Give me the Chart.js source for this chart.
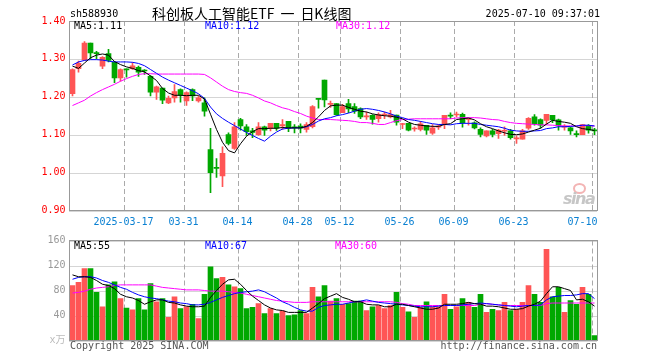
<!DOCTYPE html>
<html>
<head>
<meta charset="utf-8">
<title>sh588930 日K线图</title>
<script src="https://cdn.jsdelivr.net/npm/chart.js@4.4.1/dist/chart.umd.min.js"></script>
<style>
  body { margin: 0; background: #fff; }
  #wrap { position: relative; width: 660px; height: 360px; overflow: hidden; background: #fff; }
  #wrap canvas { position: absolute; left: 0; }
  .txt { position: absolute; font-family: 'DejaVu Sans Mono', monospace; font-size: 10px; line-height: 12px; white-space: pre; }
  .cn { position: absolute; font-family: 'Noto Sans CJK SC', sans-serif; font-size: 14px; line-height: 16px; white-space: pre; color: #000; }
  .cn .gap { display: inline-block; width: 6px; }
  #sina { position: absolute; left: 563px; top: 189px; font: italic bold 16px 'DejaVu Sans', sans-serif; letter-spacing: -1.5px; color: #c6c6c6; }
  #sinaEye { position: absolute; left: 573px; top: 183px; width: 9px; height: 7px; border-radius: 50%; border: 2px solid #f3b4b4; }
</style>
</head>
<body>
<div id="wrap">
  <canvas id="kline" width="660" height="232" style="top:0"></canvas>
  <canvas id="vol" width="660" height="130" style="top:230px"></canvas>

  <div class="txt" style="left:70px;top:8px">sh588930</div>
  <div class="cn" style="left:152px;top:5px">科创板人工智能ETF<span class="gap"></span>一<span class="gap"></span>日K线图</div>
  <div class="txt" style="right:60px;top:8px">2025-07-10 09:37:01</div>

  <div class="txt" id="ma5Label" style="left:74px;top:20px;color:#000"></div>
  <div class="txt" id="ma10Label" style="left:205px;top:20px;color:#0000ff"></div>
  <div class="txt" id="ma30Label" style="left:336px;top:20px;color:#ff00ff"></div>

  <div class="txt" id="vma5Label" style="left:74px;top:240px;color:#000"></div>
  <div class="txt" id="vma10Label" style="left:205px;top:240px;color:#0000ff"></div>
  <div class="txt" id="vma30Label" style="left:335px;top:240px;color:#ff00ff"></div>

  <div id="sinaEye"></div>
  <div id="sina">sina</div>

  <div class="txt" style="left:70px;top:340px;color:#555">Copyright 2025 SINA.COM</div>
  <div class="txt" style="right:63px;top:340px;color:#555">http://finance.sina.com.cn</div>
</div>

<script>
// Trading days shown on the chart
const dates = [
  '2025-03-04','2025-03-05','2025-03-06','2025-03-07','2025-03-10','2025-03-11','2025-03-12','2025-03-13','2025-03-14','2025-03-17',
  '2025-03-18','2025-03-19','2025-03-20','2025-03-21','2025-03-24','2025-03-25','2025-03-26','2025-03-27','2025-03-28','2025-03-31',
  '2025-04-01','2025-04-02','2025-04-03','2025-04-07','2025-04-08','2025-04-09','2025-04-10','2025-04-11','2025-04-14','2025-04-15',
  '2025-04-16','2025-04-17','2025-04-18','2025-04-21','2025-04-22','2025-04-23','2025-04-24','2025-04-25','2025-04-28','2025-04-29',
  '2025-04-30','2025-05-06','2025-05-07','2025-05-08','2025-05-09','2025-05-12','2025-05-13','2025-05-14','2025-05-15','2025-05-16',
  '2025-05-19','2025-05-20','2025-05-21','2025-05-22','2025-05-23','2025-05-26','2025-05-27','2025-05-28','2025-05-29','2025-05-30',
  '2025-06-03','2025-06-04','2025-06-05','2025-06-06','2025-06-09','2025-06-10','2025-06-11','2025-06-12','2025-06-13','2025-06-16',
  '2025-06-17','2025-06-18','2025-06-19','2025-06-20','2025-06-23','2025-06-24','2025-06-25','2025-06-26','2025-06-27','2025-06-30',
  '2025-07-01','2025-07-02','2025-07-03','2025-07-04','2025-07-07','2025-07-08','2025-07-09','2025-07-10'
];

// Dates that get a label and a dashed grid line
const tickDates = ['2025-03-17','2025-03-31','2025-04-14','2025-04-28','2025-05-12','2025-05-26','2025-06-09','2025-06-23','2025-07-10'];

const openP = [
  1.208,1.274,1.297,1.342,1.317,1.281,1.314,1.291,1.250,1.274,
  1.274,1.278,1.270,1.254,1.212,1.223,1.184,1.197,1.219,1.189,
  1.219,1.189,1.184,1.061,1.013,0.991,1.100,1.064,1.140,1.121,
  1.110,1.100,1.121,1.117,1.130,1.123,1.135,1.121,1.123,1.114,
  1.121,1.196,1.244,1.180,1.182,1.158,1.182,1.174,1.169,1.147,
  1.151,1.142,1.152,1.147,1.152,1.127,1.130,1.115,1.114,1.125,
  1.104,1.120,1.129,1.151,1.152,1.154,1.140,1.131,1.114,1.097,
  1.110,1.103,1.109,1.110,1.089,1.088,1.117,1.147,1.140,1.138,
  1.151,1.139,1.120,1.118,1.102,1.100,1.125,1.112
];
const highP = [
  1.274,1.294,1.346,1.342,1.320,1.306,1.325,1.293,1.274,1.274,
  1.290,1.281,1.272,1.256,1.228,1.223,1.202,1.232,1.221,1.213,
  1.221,1.202,1.197,1.117,1.037,1.068,1.105,1.132,1.143,1.127,
  1.117,1.132,1.123,1.130,1.130,1.140,1.135,1.127,1.129,1.132,
  1.177,1.196,1.244,1.189,1.182,1.180,1.193,1.182,1.171,1.160,
  1.153,1.158,1.160,1.164,1.152,1.130,1.130,1.121,1.135,1.125,
  1.127,1.127,1.151,1.158,1.160,1.157,1.142,1.134,1.118,1.110,
  1.114,1.114,1.121,1.114,1.097,1.114,1.145,1.153,1.142,1.154,
  1.151,1.141,1.127,1.120,1.110,1.127,1.127,1.117
];
const lowP = [
  1.202,1.265,1.296,1.300,1.300,1.274,1.292,1.237,1.241,1.252,
  1.272,1.254,1.259,1.202,1.193,1.182,1.182,1.186,1.186,1.177,
  1.190,1.186,1.149,0.947,0.987,0.963,1.073,1.061,1.112,1.098,
  1.092,1.098,1.098,1.110,1.111,1.114,1.108,1.105,1.105,1.107,
  1.118,1.170,1.173,1.172,1.151,1.158,1.158,1.156,1.142,1.140,
  1.128,1.133,1.142,1.144,1.125,1.116,1.110,1.109,1.110,1.101,
  1.101,1.114,1.116,1.142,1.147,1.120,1.125,1.115,1.094,1.094,
  1.094,1.090,1.098,1.088,1.077,1.088,1.114,1.125,1.117,1.127,
  1.132,1.112,1.112,1.101,1.094,1.100,1.104,1.100
];
const closeP = [
  1.272,1.288,1.342,1.316,1.314,1.304,1.296,1.250,1.272,1.271,
  1.282,1.265,1.268,1.212,1.226,1.191,1.196,1.214,1.204,1.211,
  1.202,1.197,1.162,1.000,1.011,1.051,1.077,1.121,1.123,1.108,
  1.106,1.121,1.112,1.130,1.117,1.127,1.117,1.118,1.117,1.127,
  1.174,1.193,1.192,1.182,1.153,1.174,1.168,1.162,1.147,1.150,
  1.140,1.153,1.154,1.153,1.133,1.128,1.112,1.117,1.129,1.112,
  1.118,1.121,1.151,1.149,1.154,1.132,1.142,1.118,1.101,1.110,
  1.101,1.112,1.110,1.092,1.090,1.110,1.143,1.129,1.125,1.154,
  1.139,1.123,1.121,1.110,1.100,1.127,1.112,1.110
];

// Volume, 万手
const volume = [
  88,93,115,115,77,54,89,94,67,52,
  49,67,49,91,62,67,37,70,51,54,
  58,35,74,118,99,101,89,86,83,51,
  53,59,43,51,43,47,40,41,48,43,
  85,70,88,63,67,58,59,63,63,48,
  54,56,51,56,77,53,46,37,53,62,
  54,54,74,50,54,67,61,53,74,45,
  50,48,61,48,50,61,88,74,61,146,
  70,85,45,64,58,85,74,8
];

// Moving averages
const ma5 = [
  1.281,1.275,1.289,1.303,1.310,1.313,1.310,1.293,1.285,1.279,
  1.275,1.269,1.266,1.255,1.243,1.222,1.210,1.204,1.204,1.203,
  1.204,1.204,1.194,1.154,1.114,1.080,1.058,1.052,1.076,1.096,
  1.108,1.116,1.116,1.117,1.117,1.119,1.118,1.118,1.118,1.122,
  1.132,1.147,1.164,1.176,1.178,1.178,1.172,1.167,1.162,1.160,
  1.155,1.152,1.150,1.149,1.146,1.142,1.133,1.127,1.125,1.123,
  1.122,1.122,1.127,1.129,1.140,1.142,1.144,1.139,1.129,1.121,
  1.116,1.110,1.105,1.101,1.100,1.102,1.107,1.112,1.117,1.128,
  1.138,1.135,1.133,1.130,1.121,1.116,1.114,1.111
];
const ma10 = [
  1.284,1.292,1.296,1.298,1.298,1.297,1.294,1.292,1.292,1.292,
  1.291,1.288,1.282,1.272,1.262,1.252,1.244,1.237,1.230,1.223,
  1.216,1.208,1.196,1.173,1.155,1.143,1.133,1.124,1.115,1.106,
  1.098,1.090,1.083,1.096,1.107,1.115,1.117,1.118,1.118,1.121,
  1.127,1.136,1.142,1.145,1.150,1.153,1.157,1.162,1.167,1.169,
  1.167,1.164,1.160,1.155,1.149,1.145,1.140,1.138,1.135,1.132,
  1.129,1.127,1.127,1.126,1.129,1.130,1.130,1.130,1.127,1.125,
  1.123,1.121,1.117,1.112,1.110,1.109,1.109,1.110,1.111,1.116,
  1.118,1.121,1.121,1.122,1.123,1.125,1.125,1.123
];
const ma30 = [
  1.177,1.184,1.191,1.202,1.211,1.219,1.226,1.233,1.241,1.248,
  1.254,1.259,1.261,1.261,1.260,1.260,1.260,1.260,1.260,1.260,
  1.260,1.260,1.259,1.250,1.239,1.228,1.219,1.214,1.211,1.209,
  1.204,1.197,1.189,1.184,1.177,1.171,1.167,1.161,1.156,1.149,
  1.144,1.140,1.140,1.140,1.139,1.138,1.137,1.135,1.132,1.132,
  1.130,1.127,1.127,1.132,1.137,1.140,1.141,1.142,1.142,1.142,
  1.142,1.142,1.142,1.142,1.144,1.145,1.145,1.145,1.144,1.142,
  1.140,1.139,1.135,1.132,1.130,1.129,1.128,1.127,1.126,1.126,
  1.125,1.124,1.123,1.123,1.123,1.124,1.124,1.123
];
const volMa5 = [
  105,102,102,101,96,90,88,83,74,70,
  68,64,58,62,65,65,61,60,57,55,
  54,54,55,69,80,90,97,98,90,80,
  71,64,57,52,49,48,45,45,45,45,
  52,59,67,71,75,69,66,62,62,58,
  57,57,54,54,58,58,56,54,52,50,
  50,52,58,58,58,59,61,59,58,55,
  55,54,52,50,50,51,55,58,63,75,
  86,86,83,80,65,66,62,55
];
const volMa10 = [
  98,101,102,102,100,96,93,89,85,82,
  77,73,70,68,67,65,63,62,60,59,
  57,57,58,61,65,69,72,75,77,78,
  79,81,78,73,68,62,58,53,49,47,
  47,53,56,57,58,58,60,62,63,65,
  63,61,60,59,58,57,56,55,54,54,
  54,55,56,56,56,57,58,59,60,59,
  58,57,56,55,54,55,56,56,57,65,
  70,71,72,72,73,75,75,67
];
const volMa30 = [
  76,77,79,82,84,85,86,88,89,89,
  89,89,89,89,87,85,84,83,82,81,
  81,81,80,79,79,79,78,77,76,74,
  72,70,68,66,64,63,62,61,61,61,
  62,62,62,62,62,62,62,62,62,62,
  62,62,62,62,61,59,58,56,56,56,
  56,56,56,56,56,56,56,56,58,59,
  58,57,56,56,56,56,56,56,56,59,
  60,60,60,60,60,60,60,60
];

const upColor = '#ff5555';
const downColor = '#00a800';
const candleColors = closeP.map((c, i) => c >= openP[i] ? upColor : downColor);

const monoFont = { family: "'DejaVu Sans Mono', 'Noto Sans CJK SC', monospace", size: 10 };
const last = (arr) => arr[arr.length - 1];

// Legend texts in the top-left of each panel
document.getElementById('ma5Label').textContent = 'MA5:' + last(ma5).toFixed(2);
document.getElementById('ma10Label').textContent = 'MA10:' + last(ma10).toFixed(2);
document.getElementById('ma30Label').textContent = 'MA30:' + last(ma30).toFixed(2);
document.getElementById('vma5Label').textContent = 'MA5:' + last(volMa5);
document.getElementById('vma10Label').textContent = 'MA10:' + last(volMa10);
document.getElementById('vma30Label').textContent = 'MA30:' + last(volMa30);

// Dotted value lines and dashed date lines, drawn under the candles
const gridPlugin = {
  id: 'sinaGrid',
  beforeDatasetsDraw(chart) {
    const { ctx, chartArea: a, scales: { x, y } } = chart;
    ctx.save();
    ctx.strokeStyle = '#aaaaaa';
    ctx.lineWidth = 1;

    ctx.setLineDash([1, 1]);
    y.ticks.forEach((t) => {
      const py = Math.round(y.getPixelForValue(t.value)) + 0.5;
      ctx.beginPath();
      ctx.moveTo(a.left, py);
      ctx.lineTo(a.right, py);
      ctx.stroke();
    });

    ctx.setLineDash([5, 3]);
    const half = (x.getPixelForValue(1) - x.getPixelForValue(0)) / 2;
    tickDates.forEach((d) => {
      const px = Math.round(x.getPixelForValue(dates.indexOf(d)) - half) + 0.5;
      ctx.beginPath();
      ctx.moveTo(px, a.top);
      ctx.lineTo(px, a.bottom);
      ctx.stroke();
    });
    ctx.restore();
  }
};

// Grey frame round the plot area
const framePlugin = {
  id: 'frame',
  afterDraw(chart) {
    const { ctx, chartArea: a } = chart;
    const l = Math.floor(a.left), t = Math.floor(a.top);
    ctx.save();
    ctx.strokeStyle = '#999';
    ctx.lineWidth = 1;
    ctx.strokeRect(l + 0.5, t + 0.5, Math.floor(a.right) - l, Math.floor(a.bottom) - t);
    ctx.restore();
  }
};

function dateAxis(showLabels) {
  return {
    type: 'category',
    offset: true,
    afterFit: (scale) => { scale.height = showLabels ? 20 : 0; },
    grid: { display: false, drawTicks: false },
    border: { display: false },
    ticks: {
      display: showLabels,
      autoSkip: false,
      maxRotation: 0,
      minRotation: 0,
      padding: 6,
      labelOffset: -3,
      color: '#0a80d2',
      font: monoFont,
      callback: (value, index) => {
        const d = dates[index];
        if (!tickDates.includes(d)) return '';
        if (d === tickDates[0]) return d;
        if (index === dates.length - 1) return d.slice(5) + '   '; // keep the last label inside the frame
        return d.slice(5);
      }
    }
  };
}

function valueAxis(min, max, step, color, format) {
  return {
    min: min,
    max: max,
    afterFit: (scale) => { scale.width = 69.5; },
    grid: { display: false, drawTicks: false },
    border: { display: false },
    ticks: { stepSize: step, padding: 4, color: color, font: monoFont, callback: format }
  };
}

function maLine(data, color) {
  return { type: 'line', data: data, borderColor: color, borderWidth: 1, pointRadius: 0, tension: 0, fill: false, order: 1 };
}

// Price panel: candles are floating bars (body = open..close, wick = low..high)
new Chart(document.getElementById('kline').getContext('2d'), {
  type: 'bar',
  data: {
    labels: dates,
    datasets: [
      maLine(ma5, '#000000'),
      maLine(ma10, '#0000ff'),
      maLine(ma30, '#ff00ff'),
      {
        type: 'bar',
        data: openP.map((o, i) => [o, closeP[i]]),
        backgroundColor: candleColors,
        barThickness: 5,
        minBarLength: 1,
        grouped: false,
        order: 2
      },
      {
        type: 'bar',
        data: lowP.map((l, i) => [l, highP[i]]),
        backgroundColor: candleColors,
        barThickness: 1,
        grouped: false,
        order: 3
      }
    ]
  },
  options: {
    responsive: false,
    animation: false,
    devicePixelRatio: 1,
    layout: { padding: { left: 0, top: 21, right: 62.5, bottom: 1.5 } },
    plugins: { legend: { display: false }, tooltip: { enabled: false } },
    scales: {
      x: dateAxis(true),
      y: valueAxis(0.9, 1.4, 0.1, '#ff0000', (v) => Number(v).toFixed(2))
    }
  },
  plugins: [gridPlugin, framePlugin]
});

// Volume panel
const volAxis = valueAxis(0, 160, 40, '#999999', (v) => v === 0 ? 'x万' : v);
volAxis.ticks.color = (ctx) => ctx.tick && ctx.tick.value === 0 ? '#bbbbbb' : '#999999';

new Chart(document.getElementById('vol').getContext('2d'), {
  type: 'bar',
  data: {
    labels: dates,
    datasets: [
      maLine(volMa5, '#000000'),
      maLine(volMa10, '#0000ff'),
      maLine(volMa30, '#ff00ff'),
      {
        type: 'bar',
        data: volume,
        backgroundColor: candleColors,
        barThickness: 5,
        grouped: false,
        order: 2
      }
    ]
  },
  options: {
    responsive: false,
    animation: false,
    devicePixelRatio: 1,
    layout: { padding: { left: 0, top: 10.5, right: 62.5, bottom: 19.5 } },
    plugins: { legend: { display: false }, tooltip: { enabled: false } },
    scales: {
      x: dateAxis(false),
      y: volAxis
    }
  },
  plugins: [gridPlugin, framePlugin]
});
</script>
</body>
</html>
